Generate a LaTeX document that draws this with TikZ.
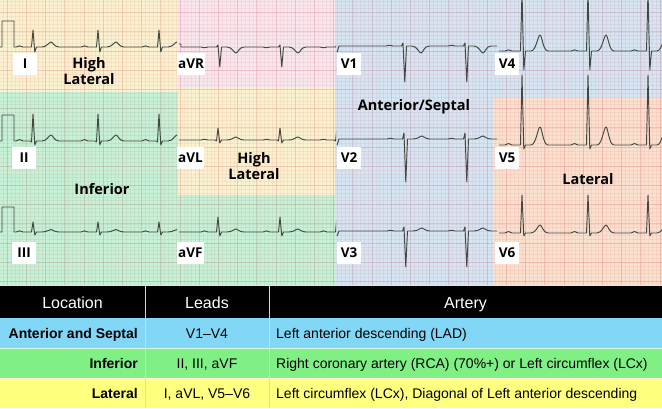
\documentclass[tikz,border=0pt]{standalone}
\usepackage{fontspec}
\setmainfont{Liberation Sans}
\newfontfamily\lblfont{Open Sans}
\definecolor{ecgYellow}{RGB}{247,232,177}
\definecolor{ecgGreen}{RGB}{160,233,187}
\definecolor{ecgPink}{RGB}{243,215,225}
\definecolor{ecgBlue}{RGB}{187,213,233}
\definecolor{ecgOrange}{RGB}{247,205,175}
\definecolor{gridRed}{RGB}{215,80,105}
\definecolor{traceCol}{RGB}{66,72,66}
\definecolor{tBlue}{RGB}{130,215,246}
\definecolor{tGreen}{RGB}{128,240,132}
\definecolor{tYellow}{RGB}{255,255,128}
% one heartbeat: x, baseline, P, Q, R, S, T (pixel units, up = positive amplitude)
\newcommand{\bt}[7]{-- ({#1-17},#2) .. controls ({#1-15},{#2-(#3)}) and ({#1-12},{#2-(#3)}) .. ({#1-10},#2) -- ({#1-3},#2) -- ({#1-1.5},{#2+(#4)}) -- (#1,{#2-(#5)}) -- ({#1+1.8},{#2+(#6)}) -- ({#1+3.5},#2) -- ({#1+9},#2) .. controls ({#1+14},#2) and ({#1+16},{#2-(#7)}) .. ({#1+18},{#2-(#7)}) .. controls ({#1+20},{#2-(#7)}) and ({#1+21},#2) .. ({#1+26},#2)}
\begin{document}
\begin{tikzpicture}[x=1pt,y=-1pt,
  trace/.style={draw=traceCol, line width=0.95pt, line join=round},
  gridminor/.style={draw=gridRed, draw opacity=0.2, line width=0.4pt},
  gridmajor/.style={draw=gridRed, draw opacity=0.45, line width=0.7pt},
  tint/.style={fill opacity=0.6},
  lead/.style={fill=white, font=\lblfont\bfseries\fontsize{13.5}{13.5}\selectfont, minimum width=24pt, minimum height=22pt, inner xsep=1pt, inner ysep=0pt, anchor=west},
  region/.style={font=\lblfont\bfseries\fontsize{14.5}{16}\selectfont, align=center, inner sep=0pt},
  hdr/.style={text=white, font=\fontsize{16}{16}\selectfont, inner sep=0pt, anchor=base},
  cell/.style={text=black, font=\fontsize{14}{14}\selectfont, inner sep=0pt},
  cellb/.style={cell, font=\bfseries\fontsize{14}{14}\selectfont}]
\useasboundingbox (0,0) rectangle (662,408);
\fill[white] (0,0) rectangle (662,408);
% grid on paper
\begin{scope}
\clip (0,0) rectangle (662,285);
\foreach \i in {0,...,171} \draw[gridminor] ({3.36+3.84*\i},0) -- ({3.36+3.84*\i},285);
\foreach \i in {0,...,74} \draw[gridminor] (0,{0.98+3.84*\i}) -- (662,{0.98+3.84*\i});
\foreach \i in {0,...,34} \draw[gridmajor] ({7.2+19.2*\i},0) -- ({7.2+19.2*\i},285);
\foreach \i in {0,...,14} \draw[gridmajor] (0,{12.5+19.2*\i}) -- (662,{12.5+19.2*\i});
\end{scope}
% ECG region tints
\fill[ecgYellow, tint] (0,0) rectangle (178,92);
\fill[ecgGreen, tint] (0,92) rectangle (178,285);
\fill[ecgPink, tint] (178,0) rectangle (335,87);
\fill[ecgYellow, tint] (178,87) rectangle (335,195);
\fill[ecgGreen, tint] (178,195) rectangle (335,285);
\fill[ecgBlue, tint] (335,0) rectangle (493,285);
\fill[ecgBlue, tint] (493,0) rectangle (662,98);
\fill[ecgOrange, tint] (493,98) rectangle (662,285);
% column 1: I, II, III
\begin{scope}
\clip (0,0) rectangle (177,285);
\draw[trace] (0,47) -- (2,47) -- (2,21) -- (14,21) -- (14,47) \bt{33}{47}{1.5}{0}{17}{5}{5} \bt{98}{47}{1.5}{0}{17}{5}{5} \bt{159}{47}{1.5}{0}{17}{5}{5} -- (180,47);
\draw[trace] (0,141) -- (2,141) -- (2,115) -- (14,115) -- (14,141) \bt{33}{141}{2}{1}{27}{4}{6} \bt{98}{141}{2}{1}{27}{4}{6} \bt{159}{141}{2}{1}{27}{4}{6} -- (180,141);
\draw[trace] (0,232) -- (2,232) -- (2,207) -- (14,207) -- (14,232) \bt{33}{232}{1.5}{0}{10}{3}{2.5} \bt{98}{232}{1.5}{0}{10}{3}{2.5} \bt{159}{232}{1.5}{0}{10}{3}{2.5} -- (180,232);
\end{scope}
% column 2: aVR, aVL, aVF
\begin{scope}
\clip (178,0) rectangle (336,285);
\draw[trace] (179,44) -- (181,44) -- (181,47) \bt{218}{47}{-1}{0}{2}{20}{-6} \bt{280}{47}{-1}{0}{2}{20}{-6} \bt{337}{47}{-1}{0}{2}{20}{-6};
\draw[trace] (179,140) \bt{218}{140}{1}{1}{12}{3}{3} \bt{280}{140}{1}{1}{12}{3}{3} \bt{337}{140}{1}{1}{12}{3}{3};
\draw[trace] (179,232) \bt{218}{232}{1.5}{0}{15}{4}{3} \bt{280}{232}{1.5}{0}{15}{4}{3} \bt{337}{232}{1.5}{0}{15}{4}{3};
\end{scope}
% column 3: V1, V2, V3
\begin{scope}
\clip (336.5,0) rectangle (497,285);
\draw[trace] (337,52) -- (339,46) \bt{403}{46}{1}{0}{3}{36}{-7} \bt{465}{46}{1}{0}{3}{36}{-7} \bt{522}{46}{1}{0}{3}{36}{-7};
\draw[trace] (337,145) -- (339,139) \bt{404}{139}{1}{0}{6}{43}{3} \bt{465}{139}{1}{0}{6}{43}{3} \bt{522}{139}{1}{0}{6}{43}{3};
\draw[trace] (337,236) -- (339,231) \bt{404}{231}{1}{0}{4}{36}{3} \bt{465}{231}{1}{0}{4}{36}{3} \bt{522}{231}{1}{0}{4}{36}{3};
\end{scope}
% column 4: V4, V5, V6
\begin{scope}
\clip (498,0) rectangle (662,285);
\draw[trace] (499,51) \bt{522}{51}{1.5}{0}{60}{19}{16} \bt{588}{51}{1.5}{0}{60}{19}{16} \bt{648}{51}{1.5}{0}{60}{19}{16};
\draw[trace] (499,145) \bt{522}{145}{2}{0}{70}{4}{18} \bt{588}{145}{2}{0}{70}{4}{18} \bt{648}{145}{2}{0}{70}{4}{18};
\draw[trace] (499,233) \bt{522}{233}{2}{0}{38}{3}{8} \bt{588}{233}{2}{0}{38}{3}{8} \bt{648}{233}{2}{0}{38}{3}{8};
\end{scope}
% lead labels
\node[lead] (nI) at (13,64) {I};
\node[lead] (naVR) at (177,64) {aVR};
\node[lead] (nV1) at (337,64) {V1};
\node[lead] (nV4) at (495,64) {V4};
\node[lead] (nII) at (12,157.5) {II};
\node[lead] (naVL) at (177,157.5) {aVL};
\node[lead] (nV2) at (337,157.5) {V2};
\node[lead] (nV5) at (495,157.5) {V5};
\node[lead] (nIII) at (12,253) {III};
\node[lead] (naVF) at (177,253) {aVF};
\node[lead] (nV3) at (337,253) {V3};
\node[lead] (nV6) at (495,253) {V6};
% region labels
\node[region] (rHL1) at (89,71) {High\\Lateral};
\node[region] (rHL2) at (254,166) {High\\Lateral};
\node[region, anchor=base] (rInf) at (102,194) {Inferior};
\node[region, anchor=base] (rAS) at (414,110) {Anterior/Septal};
\node[region, anchor=base] (rLat) at (588,184) {Lateral};
% table
\fill[black] (0,286) rectangle (662,318);
\fill[tBlue] (0,318) rectangle (662,348);
\fill[tGreen] (0,348) rectangle (662,378);
\fill[tYellow] (0,378) rectangle (662,408);
\draw[white, line width=0.6pt, opacity=0.7] (0,348) -- (662,348) (0,378) -- (662,378);
\draw[white!85!black, line width=1pt] (145,286) -- (145,408) (269,286) -- (269,408);
\node[hdr] (hLoc) at (72.5,308) {Location};
\node[hdr] (hLeads) at (207,308) {Leads};
\node[hdr] (hArt) at (465.5,308) {Artery};
\node[cellb, anchor=base east] (c11) at (138,338) {Anterior and Septal};
\node[cell, anchor=base] (c12) at (207,338) {V1–V4};
\node[cell, anchor=base west] (c13) at (276,338) {Left anterior descending (LAD)};
\node[cellb, anchor=base east] (c21) at (138,368) {Inferior};
\node[cell, anchor=base] (c22) at (207,368) {II, III, aVF};
\node[cell, anchor=base west] (c23) at (276,368) {Right coronary artery (RCA) (70\%+) or Left circumflex (LCx)};
\node[cellb, anchor=base east] (c31) at (138,398) {Lateral};
\node[cell, anchor=base] (c32) at (207,398) {I, aVL, V5–V6};
\node[cell, anchor=base west] (c33) at (276,398) {Left circumflex (LCx), Diagonal of Left anterior descending};
\end{tikzpicture}
\end{document}
